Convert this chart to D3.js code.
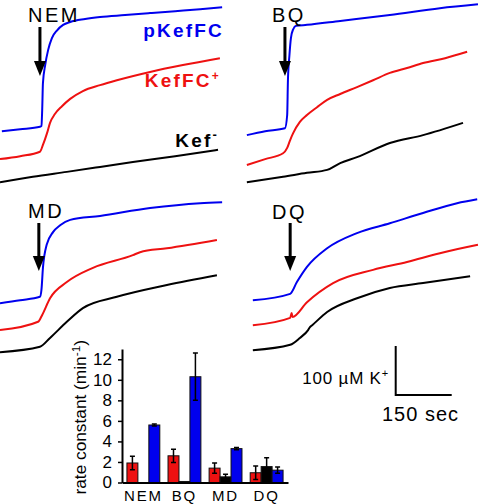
<!DOCTYPE html>
<html><head><meta charset="utf-8">
<script src="https://cdn.jsdelivr.net/npm/d3@7"></script>
<style>body{margin:0;background:#fff}svg{display:block}text{font-family:"Liberation Sans",Arial,Helvetica,sans-serif}</style>
</head><body><svg id="c" width="482" height="504"></svg>
<script>
// ---- trace data: [time (s), K+ efflux (µM)] ----
const nemBlue  = [[5,120],[54,124],[107,129],[111,131],[113,163],[115,218],[121,255],[129,286],[139,310],[153,326],[169,337],[188,343],[228,349],[268,353],[335,357],[402,361],[469,365],[536,369],[595,373]];
const nemRed   = [[0,63],[54,69],[107,78],[115,92],[126,116],[134,137],[147,155],[166,171],[188,186],[222,202],[268,214],[313,224],[402,241],[490,255],[589,269]];
const nemBlack = [[0,16],[88,27],[179,37],[268,47],[356,57],[469,69],[584,82]];
const bqBlue   = [[5,112],[54,120],[107,126],[113,153],[115,224],[119,275],[123,310],[129,328],[137,335],[166,337],[255,345],[388,357],[522,371],[624,379]];
const bqRed    = [[5,51],[54,63],[102,75],[113,86],[121,102],[129,116],[147,139],[166,153],[193,169],[220,184],[255,196],[300,210],[343,224],[388,239],[434,249],[477,259],[536,269],[595,282]];
const bqBlack  = [[5,16],[102,27],[166,35],[220,41],[255,55],[300,67],[388,96],[477,112],[584,137]];
const mdBlue   = [[0,116],[54,122],[107,129],[111,143],[115,188],[125,235],[142,261],[161,275],[188,286],[268,294],[402,310],[536,320],[595,322]];
const mdRed    = [[0,61],[102,78],[113,92],[134,126],[179,159],[249,188],[356,214],[375,220],[447,228],[581,245]];
const mdBlack  = [[0,16],[107,27],[134,45],[179,78],[222,106],[313,129],[447,153],[581,173]];
const dqBlue   = [[21,122],[121,135],[139,159],[166,190],[220,228],[300,259],[388,279],[477,300],[568,320],[622,328]];
const dqRed    = [[21,71],[121,86],[125,96],[127,88],[166,118],[236,157],[343,184],[434,200],[522,218],[624,235]];
const dqBlack  = [[21,20],[121,31],[147,45],[169,61],[174,67],[180,71],[220,98],[300,126],[388,147],[477,157],[603,171]];

const treatments = ["NEM", "BQ", "MD", "DQ"];
const addTimes   = [107, 107, 104, 121];          // s, arrow position
const traceNames = ["pKefFC", "KefFC", "Kef"];

// ---- rate constants (min^-1) ----
const series     = ["KefFC+", "Kef-", "pKefFC"];
const redRates   = [1.9, 2.6, 1.4, 0.95];
const redErr     = [0.65, 0.65, 0.5, 0.65];
const blackRates = [0, 0.1, 0.55, 1.55];
const blackErr   = [0, 0, 0.25, 0.85];
const blueRates  = [5.6, 10.3, 3.3, 1.2];
const blueErr    = [0.1, 2.3, 0.12, 0.3];
const rateTicks  = [0, 2, 4, 6, 8, 10, 12];

// scale bar
const barTime = 150, barConc = 100;

const BLUE = "#0000ee", RED = "#ee1111", BLACK = "#000";
const svg = d3.select("#c");
const pxPerSec = 56 / 150, pxPerUM = 49 / 100;

const traces = [[nemBlue, nemRed, nemBlack], [bqBlue, bqRed, bqBlack], [mdBlue, mdRed, mdBlack], [dqBlue, dqRed, dqBlack]];
const layout = [
  {left: 0,   bottom: 190, lx: 28,  ly: 22,  aTop: 27,  aTip: 76},
  {left: 245, bottom: 190, lx: 272, ly: 22,  aTop: 27,  aTip: 76},
  {left: 0,   bottom: 360, lx: 28,  ly: 218, aTop: 223, aTip: 271},
  {left: 245, bottom: 360, lx: 272, ly: 219, aTop: 223, aTip: 271}
];
let scales = [];
treatments.forEach((t, i) => {
  const L = layout[i];
  const x = d3.scaleLinear().domain([0, 650]).range([L.left, L.left + 650 * pxPerSec]);
  const y = d3.scaleLinear().domain([0, 400]).range([L.bottom, L.bottom - 400 * pxPerUM]);
  scales.push({x, y});
  const line = d3.line().x(d => x(d[0])).y(d => y(d[1])).curve(d3.curveMonotoneX);
  const g = svg.append("g");
  [[traces[i][2], BLACK], [traces[i][1], RED], [traces[i][0], BLUE]].forEach(([d, c]) => {
    g.append("path").attr("d", line(d)).attr("fill", "none").attr("stroke", c)
      .attr("stroke-width", 2).attr("stroke-linejoin", "round");
  });
  // arrow
  const ax = x(addTimes[i]);
  g.append("line").attr("x1", ax).attr("x2", ax).attr("y1", L.aTop).attr("y2", L.aTip - 12)
    .attr("stroke", "#000").attr("stroke-width", 3);
  g.append("path").attr("d", `M${ax - 6},${L.aTip - 15}L${ax + 6},${L.aTip - 15}L${ax},${L.aTip}Z`).attr("fill", "#000");
  g.append("text").attr("x", L.lx).attr("y", L.ly).attr("font-size", 20)
    .attr("letter-spacing", 2.5).text(t);
});

// trace labels (top-left panel)
const lab = svg.append("g").attr("font-weight", "bold").attr("font-size", 19).attr("text-anchor", "end");
lab.append("text").attr("x", 224).attr("y", 37).attr("fill", BLUE).attr("letter-spacing", 2.2).text(traceNames[0]);
const t2 = lab.append("text").attr("x", 221).attr("y", 87).attr("fill", RED).attr("letter-spacing", 2.2);
t2.append("tspan").text(traceNames[1]);
t2.append("tspan").attr("font-size", 12).attr("dy", -7).text("+");
const t3 = lab.append("text").attr("x", 219).attr("y", 147).attr("fill", BLACK).attr("letter-spacing", 2.2);
t3.append("tspan").text(traceNames[2]);
t3.append("tspan").attr("font-size", 13).attr("dy", -8).text("-");

// scale bar
{
  const s = scales[3];
  const bx = 395.7, by = 395;
  const w = s.x(barTime) - s.x(0), h = s.y(0) - s.y(barConc);
  svg.append("path").attr("d", `M${bx},${by - h}V${by}H${bx + w}`).attr("fill", "none")
    .attr("stroke", "#000").attr("stroke-width", 2);
  const tk = svg.append("text").attr("x", 389).attr("y", 384).attr("font-size", 17)
    .attr("text-anchor", "end").attr("letter-spacing", 0.8);
  tk.append("tspan").text(barConc + " µM K");
  tk.append("tspan").attr("font-size", 11).attr("dy", -7).text("+");
  svg.append("text").attr("x", 382).attr("y", 421).attr("font-size", 20).attr("letter-spacing", 1)
    .text(barTime + " sec");
}

// ---- bar chart inset ----
const yR = d3.scaleLinear().domain([0, 13]).range([482.5, 349]);
const x0 = d3.scaleBand().domain(treatments).range([122, 288]).paddingInner(0.2).paddingOuter(0.12);
const x1 = d3.scaleBand().domain(series).range([0, x0.bandwidth()]);
const bc = svg.append("g");
const rows = [[redRates, redErr, RED], [blackRates, blackErr, "#000"], [blueRates, blueErr, BLUE]];
treatments.forEach((t, i) => {
  rows.forEach(([vals, errs, col], j) => {
    const v = vals[i];
    if (v <= 0) return;
    const bx = x0(t) + x1(series[j]);
    bc.append("rect").attr("x", bx).attr("y", yR(v)).attr("width", x1.bandwidth())
      .attr("height", yR(0) - yR(v)).attr("fill", col).attr("stroke", "#111").attr("stroke-width", 1);
    const e = errs[i];
    if (e > 0) {
      const cx = bx + x1.bandwidth() / 2;
      bc.append("path").attr("d", `M${cx},${yR(v - e)}V${yR(v + e)}M${cx - 2.5},${yR(v + e)}H${cx + 2.5}M${cx - 2.5},${yR(v - e)}H${cx + 2.5}`)
        .attr("stroke", "#000").attr("stroke-width", 1.5).attr("fill", "none");
    }
  });
});
const yAx = bc.append("g").attr("transform", "translate(122,0)")
  .call(d3.axisLeft(yR).tickValues(rateTicks).tickSize(4).tickSizeOuter(0).tickPadding(6));
yAx.select(".domain").attr("stroke-width", 2);
yAx.selectAll("text").attr("font-size", 17).attr("font-family", null).attr("fill", "#000");
yAx.selectAll(".tick line").attr("stroke-width", 1.5);
const xAx = bc.append("g").attr("transform", `translate(0,${yR(0)})`)
  .call(d3.axisBottom(x0).tickSize(0).tickPadding(0));
xAx.select(".domain").attr("stroke-width", 2);
xAx.selectAll("text").attr("font-size", 15).attr("font-family", null).attr("fill", "#000")
  .attr("dy", null).attr("y", 18).attr("letter-spacing", 1.8);

const yt = bc.append("g").attr("transform", "translate(86,340) rotate(-90) scale(1.08,1)")
  .append("text").attr("font-size", 16).attr("text-anchor", "end");
yt.append("tspan").text("rate constant (min");
yt.append("tspan").attr("font-size", 11).attr("dy", -6).text("-1");
yt.append("tspan").attr("dy", 6).text(")");
</script></body></html>
